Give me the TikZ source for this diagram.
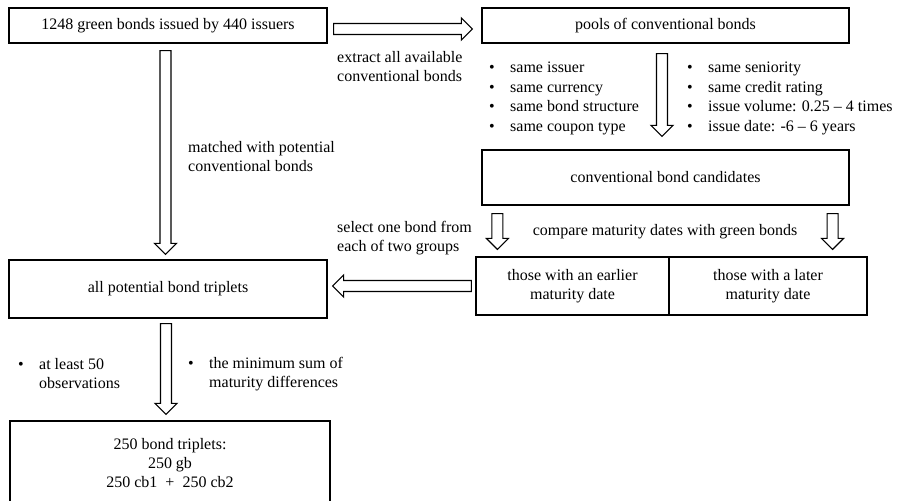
\documentclass[tikz,border=0pt]{standalone}
\usepackage{fontspec}
\setmainfont{Liberation Serif}
\usetikzlibrary{calc}
\newcommand{\bul}{\makebox[21pt][l]{•}}
\tikzset{
  gs/.store in=\hgs, ge/.store in=\hge, gs=6pt, ge=6pt,
  txt/.style={inner sep=0pt, font=\fontsize{16}{19}\selectfont},
  box/.style={txt, draw, line width=1.2pt, align=center},
  label/.style={txt, align=left, anchor=west},
  crit/.style={label, font=\fontsize{16}{19.6}\selectfont},
  hollowarrow/.style={draw, line width=1.1pt, line join=miter,
    to path={
      let \p1=($(\tikztostart)!\hgs!(\tikztotarget)$),
          \p2=($(\tikztotarget)!\hge!(\tikztostart)$),
          \p3=($(\p2)!11pt!(\p1)$) in
      ($(\p1)!5.5pt!90:(\p2)$) -- ($(\p3)!5.5pt!-90:(\p1)$) --
      ($(\p3)!11pt!-90:(\p1)$) -- (\p2) -- ($(\p3)!11pt!90:(\p1)$) --
      ($(\p3)!5.5pt!90:(\p1)$) -- ($(\p1)!5.5pt!-90:(\p2)$) -- cycle}}
}
\begin{document}
\begin{tikzpicture}[x=1pt,y=-1pt]
\useasboundingbox (0,0) rectangle (901,500);
\fill[white] (0,0) rectangle (901,500);

\node[box, minimum width=318, minimum height=35] (box1) at (168,25.5) {1248 green bonds issued by 440 issuers};
\node[box, minimum width=367, minimum height=35] (pools) at (665.5,25.5) {pools of conventional bonds};
\node[box, minimum width=367, minimum height=55] (cand) at (665.5,177.5) {conventional bond candidates};
\node[box, minimum width=193, minimum height=58] (left) at (572.5,286) {those with an earlier\\maturity date};
\node[box, minimum width=198, minimum height=58] (right) at (768,286) {those with a later\\maturity date};
\node[box, minimum width=318, minimum height=58] (trip) at (168,289) {all potential bond triplets};
\node[box, minimum width=320, minimum height=84] (fin) at (170,463) {250 bond triplets:\\250 gb\\250 cb1\ \ +\ \ 250 cb2};

\node[label] (lextract) at (337,66.5) {extract all available\\conventional bonds};
\node[label] (lmatched) at (188,157) {matched with potential\\conventional bonds};
\node[crit] (lcritA) at (489,98.5) {\bul same issuer\\\bul same currency\\\bul same bond structure\\\bul same coupon type};
\node[crit] (lcritB) at (687,98.5) {\bul same seniority\\\bul same credit rating\\\bul issue volume: 0.25 -- 4 times\\\bul issue date: -6 -- 6 years};
\node[txt] (lcompare) at (665,232) {compare maturity dates with green bonds};
\node[label] (lselect) at (337,238) {select one bond from\\each of two groups};
\node[label] (lobs) at (18,374) {\bul at least 50\\\makebox[21pt]{}observations};
\node[label] (lmin) at (188,374) {\bul the minimum sum of\\\makebox[21pt]{}maturity differences};

\coordinate (a1s) at ($(box1.east)+(0,3.5)$);
\coordinate (a1e) at ($(pools.west)+(0,3.5)$);
\coordinate (a2s) at ($(box1.south)+(-2.5,0)$);
\coordinate (a2e) at ($(trip.north)+(-2.5,0)$);
\coordinate (a3s) at ($(pools.south)+(-3.5,0)$);
\coordinate (a3e) at ($(cand.north)+(-3.5,0)$);
\coordinate (a4s) at ($(cand.south west)+(16,0)$);
\coordinate (a4e) at ($(left.north west)+(22,0)$);
\coordinate (a5s) at ($(cand.south east)+(-17,0)$);
\coordinate (a5e) at ($(right.north east)+(-35,0)$);
\coordinate (a6e) at (trip.east |- left.west);
\coordinate (a7s) at ($(trip.south)+(-2,0)$);
\coordinate (a7e) at ($(fin.north)+(-4,0)$);

\draw[hollowarrow, gs=6pt, ge=9pt] (a1s) to (a1e);
\draw[hollowarrow, gs=7pt, ge=5pt] (a2s) to (a2e);
\draw[hollowarrow, gs=10pt, ge=13pt] (a3s) to (a3e);
\draw[hollowarrow, gs=8pt, ge=7pt] (a4s) to (a4e);
\draw[hollowarrow, gs=8pt, ge=7pt] (a5s) to (a5e);
\draw[hollowarrow, gs=4pt, ge=5pt] (left.west) to (a6e);
\draw[hollowarrow, gs=5pt, ge=6pt] (a7s) to (a7e);
\end{tikzpicture}
\end{document}
